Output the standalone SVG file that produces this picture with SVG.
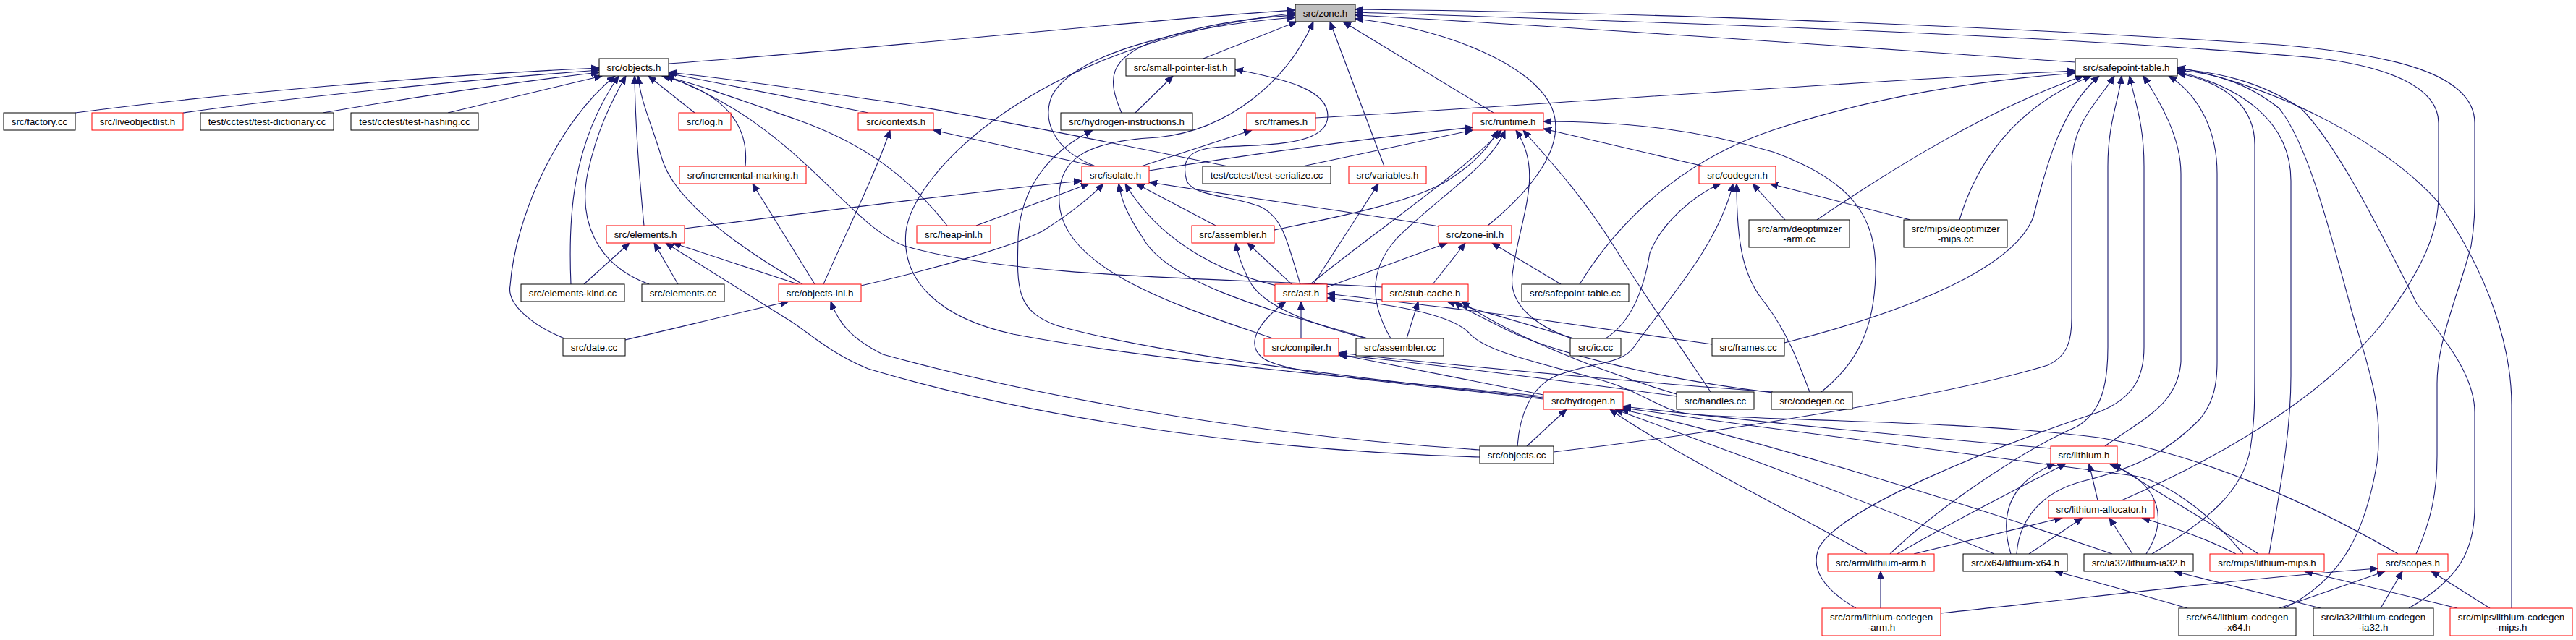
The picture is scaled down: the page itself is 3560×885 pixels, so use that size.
<svg xmlns="http://www.w3.org/2000/svg" width="3560" height="885" viewBox="0 0 3560 885">
<style>
.e path{fill:none;stroke:#191970;stroke-width:1.1;marker-end:url(#a)}
.n rect{fill:#fff;stroke:#000;stroke-width:1}
.r rect{stroke:#ff0000}
.g rect{fill:#bfbfbf}
text{font-family:"Liberation Sans",Arial,Helvetica,sans-serif;font-size:13.33px;text-anchor:middle;fill:#000}
</style>
<defs>
<marker id="a" markerWidth="12" markerHeight="10" refX="11" refY="5" orient="auto" markerUnits="userSpaceOnUse"><path d="M0,0.5 L11,5 L0,9.5 z" fill="#191970" stroke="#191970" stroke-width="1"/></marker>
</defs>
<rect width="3560" height="885" fill="#fff"/>
<g id="connectors" class="e">
<path d="M924,88 C1300,60 1600,25 1790,14"/>
<path d="M1663,81 L1792,30"/>
<path d="M1550,156 C1530,110 1530,80 1600,55 C1660,35 1720,25 1790,21"/>
<path d="M1514,230 C1450,205 1440,160 1455,130 C1490,70 1650,35 1790,24"/>
<path d="M2133,548 C1900,525 1600,500 1400,462 C1300,440 1245,390 1252,320 C1262,240 1430,60 1790,18"/>
<path d="M1759,468 C1650,430 1480,380 1465,290 C1455,220 1500,195 1600,190 C1700,180 1780,110 1815,30"/>
<path d="M1913,230 L1838,30"/>
<path d="M2064,156 L1856,30"/>
<path d="M2056,312 C2120,260 2165,200 2145,150 C2120,90 2000,40 1873,26"/>
<path d="M2868,86 C2600,68 2150,35 1873,21"/>
<path d="M3339,766 C3360,720 3368,680 3368,630 L3368,530 C3368,470 3400,400 3415,340 C3420,310 3420,290 3420,270 L3420,170 C3420,100 3300,75 3150,62 C2700,32 2200,16 1873,13"/>
<path d="M2932,692 C3050,640 3200,560 3290,450 C3350,370 3370,320 3370,270 L3370,170 C3370,120 3300,92 3200,80 C2800,45 2200,28 1873,17"/>
<path d="M104,156 C300,130 600,104 828,94"/>
<path d="M253,156 C400,135 650,110 828,97"/>
<path d="M446,156 C550,138 700,115 828,100"/>
<path d="M619,156 L832,105"/>
<path d="M780,468 C735,450 700,420 705,395 C712,300 770,170 850,105"/>
<path d="M789,393 C785,300 790,200 855,105"/>
<path d="M897,393 C820,365 800,300 812,240 C825,180 845,140 865,105"/>
<path d="M890,312 C884,250 878,180 877,105"/>
<path d="M1109,393 C1000,330 930,270 915,220 C900,170 885,140 882,105"/>
<path d="M960,156 L896,105"/>
<path d="M1030,230 C1035,180 1010,130 915,105"/>
<path d="M1200,156 L922,101"/>
<path d="M1697,230 C1500,190 1300,150 1200,137 C1100,122 1000,108 924,100"/>
<path d="M1309,312 C1260,250 1200,200 1100,165 C1000,130 950,112 915,105"/>
<path d="M1910,397 C1700,385 1400,385 1250,340 C1170,310 1100,170 920,105"/>
<path d="M1569,156 L1621,105"/>
<path d="M1797,393 C1780,340 1775,300 1740,285 C1700,270 1650,272 1640,250 C1630,215 1650,205 1690,203 C1760,200 1835,200 1835,160 C1835,125 1780,110 1707,96"/>
<path d="M2133,550 C1900,527 1600,490 1460,450 C1405,430 1405,400 1407,330 C1410,260 1450,210 1510,180"/>
<path d="M1514,230 L1290,180"/>
<path d="M1138,393 C1170,320 1210,240 1230,180"/>
<path d="M1577,230 L1730,180"/>
<path d="M1818,163 C2200,140 2600,110 2868,98"/>
<path d="M2183,393 C2240,300 2330,220 2450,180 C2600,130 2750,110 2868,101"/>
<path d="M2511,304 C2620,230 2750,150 2879,105"/>
<path d="M2708,304 C2730,230 2780,150 2890,105"/>
<path d="M2466,474 C2600,440 2780,380 2810,300 C2830,220 2850,150 2901,105"/>
<path d="M2147,625 C2400,595 2700,545 2830,505 C2858,492 2863,470 2863,440 L2863,230 C2863,170 2900,140 2922,105"/>
<path d="M2612,766 C2680,700 2800,620 2870,590 C2905,570 2913,530 2913,480 L2913,230 C2913,170 2928,140 2932,105"/>
<path d="M2565,841 C2520,815 2500,785 2515,755 C2550,700 2750,620 2900,570 C2950,550 2963,520 2963,480 L2963,230 C2963,170 2950,140 2943,105"/>
<path d="M2909,617 C2960,580 3010,560 3014,500 L3014,240 C3014,190 2985,140 2962,105"/>
<path d="M2787,766 C2790,720 2820,680 2880,665 C2960,645 3000,620 3040,580 C3060,555 3064,530 3064,500 L3064,240 C3064,170 3030,125 2997,105"/>
<path d="M2974,766 C3050,720 3100,680 3110,620 C3116,580 3116,560 3116,500 L3116,200 C3116,150 3080,115 3009,101"/>
<path d="M3136,766 C3150,680 3166,600 3166,520 L3166,250 C3166,170 3100,120 3009,99"/>
<path d="M3157,841 C3240,800 3270,730 3285,640 C3295,560 3270,500 3250,430 C3220,320 3190,200 3150,150 C3100,110 3050,100 3009,97"/>
<path d="M3329,841 C3400,800 3420,760 3420,700 L3420,570 C3420,520 3380,470 3340,420 C3290,320 3230,200 3180,150 C3120,110 3060,100 3009,95"/>
<path d="M3471,841 L3471,560 C3471,480 3440,380 3370,280 C3300,200 3150,120 3009,93"/>
<path d="M1588,236 C1750,210 1900,190 2035,176"/>
<path d="M1800,230 L2035,180"/>
<path d="M2355,230 L2133,178"/>
<path d="M2517,542 C2570,500 2590,450 2592,380 C2594,300 2560,250 2450,210 C2350,180 2250,168 2133,168"/>
<path d="M1761,318 C1850,300 1950,280 2000,250 C2040,225 2060,200 2070,180"/>
<path d="M1811,393 C1900,320 2020,240 2075,180"/>
<path d="M1922,468 C1900,430 1885,380 1930,330 C1990,270 2060,230 2080,180"/>
<path d="M2172,468 C2120,450 2085,420 2090,380 C2100,300 2135,240 2095,180"/>
<path d="M2364,542 C2330,490 2280,420 2230,340 C2180,260 2130,210 2105,180"/>
<path d="M2467,304 L2422,254"/>
<path d="M2640,304 L2446,254"/>
<path d="M2219,468 C2255,445 2272,400 2280,350 C2295,310 2340,270 2378,254"/>
<path d="M2097,617 C2100,575 2115,535 2150,520 C2200,500 2240,505 2258,480 C2300,420 2375,340 2395,254"/>
<path d="M2501,542 C2485,500 2470,460 2440,420 C2410,385 2400,340 2400,254"/>
<path d="M946,316 C1150,290 1350,265 1495,250"/>
<path d="M1349,312 L1505,254"/>
<path d="M1190,395 C1300,370 1400,340 1440,320 C1480,295 1510,270 1525,254"/>
<path d="M1680,312 L1570,254"/>
<path d="M1988,313 C1900,298 1700,270 1588,252"/>
<path d="M1764,395 C1680,375 1600,330 1555,254"/>
<path d="M1890,468 C1800,440 1620,400 1580,330 C1560,300 1550,280 1546,254"/>
<path d="M1815,393 L1905,254"/>
<path d="M1785,393 L1724,336"/>
<path d="M1888,468 C1800,445 1740,420 1725,385 C1715,365 1710,350 1708,336"/>
<path d="M1834,397 L2000,336"/>
<path d="M1980,393 L2025,336"/>
<path d="M2157,393 L2062,336"/>
<path d="M1944,468 L1960,417"/>
<path d="M2175,468 C2100,445 2040,428 2000,417"/>
<path d="M2450,543 C2300,525 2150,490 2080,455 C2040,435 2020,425 2010,417"/>
<path d="M2317,545 C2200,510 2080,460 2020,417"/>
<path d="M1126,393 L1040,254"/>
<path d="M807,393 L870,336"/>
<path d="M937,393 L904,336"/>
<path d="M1103,393 L930,336"/>
<path d="M2045,632 C1700,622 1400,570 1200,510 C1150,490 1120,462 1094,445 L920,336"/>
<path d="M864,470 C950,450 1030,430 1090,417"/>
<path d="M2045,622 C1700,600 1400,540 1220,490 C1180,470 1160,450 1148,417"/>
<path d="M2110,617 L2165,566"/>
<path d="M2834,620 C2600,600 2400,580 2243,562"/>
<path d="M2580,766 C2480,710 2300,620 2225,566"/>
<path d="M2756,766 C2600,700 2350,610 2232,566"/>
<path d="M2919,766 C2700,690 2400,600 2240,566"/>
<path d="M3100,766 C3050,705 2990,665 2950,658 C2800,640 2500,600 2243,564"/>
<path d="M2899,692 L2887,641"/>
<path d="M2622,766 C2700,720 2780,680 2855,641"/>
<path d="M2779,766 C2765,720 2770,670 2840,641"/>
<path d="M2966,766 C2995,720 2990,670 2915,641"/>
<path d="M3121,766 C3050,720 2980,680 2920,641"/>
<path d="M2645,766 L2850,716"/>
<path d="M2804,766 L2878,716"/>
<path d="M2947,766 L2915,716"/>
<path d="M3090,766 C3050,745 3000,728 2960,716"/>
<path d="M2599,841 L2599,790"/>
<path d="M3023,841 C2950,820 2900,805 2840,790"/>
<path d="M3207,841 L3005,790"/>
<path d="M3396,841 L3185,790"/>
<path d="M2682,848 C2900,825 3100,800 3286,786"/>
<path d="M3150,841 L3296,790"/>
<path d="M3290,841 L3320,790"/>
<path d="M3441,841 L3360,790"/>
<path d="M2133,546 C2030,525 1930,505 1850,490"/>
<path d="M2450,542 C2350,535 2100,515 1850,488"/>
<path d="M2317,548 C2150,525 1950,500 1850,491"/>
<path d="M1798,468 L1798,417"/>
<path d="M2133,552 C1950,530 1780,520 1745,495 C1720,475 1740,445 1777,417"/>
<path d="M3314,766 C3200,700 3050,630 2900,605 C2700,580 2420,582 2330,572 C2290,565 2270,540 2200,522 C2120,500 2050,485 2030,460 C2000,430 1900,418 1834,412"/>
<path d="M2366,476 C2250,460 2150,445 2100,438 C2000,425 1900,414 1834,406"/>
</g>
<g id="zone_h" class="n g"><rect x="1790" y="6" width="83" height="24"/><text x="1831.5" y="23">src/zone.h</text></g>
<g id="objects_h" class="n"><rect x="828" y="81" width="96" height="24"/><text x="876" y="98">src/objects.h</text></g>
<g id="small_pointer_list_h" class="n"><rect x="1556" y="81" width="151" height="24"/><text x="1631.5" y="98">src/small-pointer-list.h</text></g>
<g id="safepoint_table_h" class="n"><rect x="2868" y="81" width="141" height="24"/><text x="2938.5" y="98">src/safepoint-table.h</text></g>
<g id="factory_cc" class="n"><rect x="5" y="156" width="99" height="24"/><text x="54.5" y="173">src/factory.cc</text></g>
<g id="liveobjectlist_h" class="n r"><rect x="127" y="156" width="126" height="24"/><text x="190" y="173">src/liveobjectlist.h</text></g>
<g id="test_dictionary_cc" class="n"><rect x="277" y="156" width="184" height="24"/><text x="369" y="173">test/cctest/test-dictionary.cc</text></g>
<g id="test_hashing_cc" class="n"><rect x="485" y="156" width="176" height="24"/><text x="573" y="173">test/cctest/test-hashing.cc</text></g>
<g id="log_h" class="n r"><rect x="938" y="156" width="72" height="24"/><text x="974" y="173">src/log.h</text></g>
<g id="contexts_h" class="n r"><rect x="1186" y="156" width="104" height="24"/><text x="1238" y="173">src/contexts.h</text></g>
<g id="hydrogen_instructions_h" class="n"><rect x="1466" y="156" width="182" height="24"/><text x="1557" y="173">src/hydrogen-instructions.h</text></g>
<g id="frames_h" class="n r"><rect x="1723" y="156" width="95" height="24"/><text x="1770.5" y="173">src/frames.h</text></g>
<g id="runtime_h" class="n r"><rect x="2035" y="156" width="98" height="24"/><text x="2084" y="173">src/runtime.h</text></g>
<g id="incremental_marking_h" class="n r"><rect x="939" y="230" width="175" height="24"/><text x="1026.5" y="247">src/incremental-marking.h</text></g>
<g id="isolate_h" class="n r"><rect x="1495" y="230" width="93" height="24"/><text x="1541.5" y="247">src/isolate.h</text></g>
<g id="test_serialize_cc" class="n"><rect x="1662" y="230" width="177" height="24"/><text x="1750.5" y="247">test/cctest/test-serialize.cc</text></g>
<g id="variables_h" class="n r"><rect x="1864" y="230" width="107" height="24"/><text x="1917.5" y="247">src/variables.h</text></g>
<g id="codegen_h" class="n r"><rect x="2348" y="230" width="106" height="24"/><text x="2401" y="247">src/codegen.h</text></g>
<g id="deoptimizer_arm_cc" class="n"><rect x="2417" y="304" width="139" height="38"/><text x="2486.5" y="321">src/arm/deoptimizer</text><text x="2486.5" y="335">-arm.cc</text></g>
<g id="deoptimizer_mips_cc" class="n"><rect x="2631" y="304" width="143" height="38"/><text x="2702.5" y="321">src/mips/deoptimizer</text><text x="2702.5" y="335">-mips.cc</text></g>
<g id="elements_h" class="n r"><rect x="838" y="312" width="108" height="24"/><text x="892" y="329">src/elements.h</text></g>
<g id="heap_inl_h" class="n r"><rect x="1267" y="312" width="102" height="24"/><text x="1318" y="329">src/heap-inl.h</text></g>
<g id="assembler_h" class="n r"><rect x="1647" y="312" width="114" height="24"/><text x="1704" y="329">src/assembler.h</text></g>
<g id="zone_inl_h" class="n r"><rect x="1988" y="312" width="101" height="24"/><text x="2038.5" y="329">src/zone-inl.h</text></g>
<g id="elements_kind_cc" class="n"><rect x="720" y="393" width="143" height="24"/><text x="791.5" y="410">src/elements-kind.cc</text></g>
<g id="elements_cc" class="n"><rect x="887" y="393" width="114" height="24"/><text x="944" y="410">src/elements.cc</text></g>
<g id="objects_inl_h" class="n r"><rect x="1076" y="393" width="114" height="24"/><text x="1133" y="410">src/objects-inl.h</text></g>
<g id="ast_h" class="n r"><rect x="1762" y="393" width="72" height="24"/><text x="1798" y="410">src/ast.h</text></g>
<g id="stub_cache_h" class="n r"><rect x="1910" y="393" width="119" height="24"/><text x="1969.5" y="410">src/stub-cache.h</text></g>
<g id="safepoint_table_cc" class="n"><rect x="2103" y="393" width="148" height="24"/><text x="2177" y="410">src/safepoint-table.cc</text></g>
<g id="date_cc" class="n"><rect x="778" y="468" width="86" height="24"/><text x="821" y="485">src/date.cc</text></g>
<g id="compiler_h" class="n r"><rect x="1747" y="468" width="103" height="24"/><text x="1798.5" y="485">src/compiler.h</text></g>
<g id="assembler_cc" class="n"><rect x="1874" y="468" width="121" height="24"/><text x="1934.5" y="485">src/assembler.cc</text></g>
<g id="ic_cc" class="n"><rect x="2170" y="468" width="70" height="24"/><text x="2205" y="485">src/ic.cc</text></g>
<g id="frames_cc" class="n"><rect x="2366" y="468" width="100" height="24"/><text x="2416" y="485">src/frames.cc</text></g>
<g id="hydrogen_h" class="n r"><rect x="2133" y="542" width="110" height="24"/><text x="2188" y="559">src/hydrogen.h</text></g>
<g id="handles_cc" class="n"><rect x="2317" y="542" width="107" height="24"/><text x="2370.5" y="559">src/handles.cc</text></g>
<g id="codegen_cc" class="n"><rect x="2448" y="542" width="112" height="24"/><text x="2504" y="559">src/codegen.cc</text></g>
<g id="objects_cc" class="n"><rect x="2045" y="617" width="102" height="24"/><text x="2096" y="634">src/objects.cc</text></g>
<g id="lithium_h" class="n r"><rect x="2834" y="617" width="92" height="24"/><text x="2880" y="634">src/lithium.h</text></g>
<g id="lithium_allocator_h" class="n r"><rect x="2831" y="692" width="146" height="24"/><text x="2904" y="709">src/lithium-allocator.h</text></g>
<g id="arm_lithium_arm_h" class="n r"><rect x="2526" y="766" width="147" height="24"/><text x="2599.5" y="783">src/arm/lithium-arm.h</text></g>
<g id="x64_lithium_x64_h" class="n"><rect x="2713" y="766" width="144" height="24"/><text x="2785" y="783">src/x64/lithium-x64.h</text></g>
<g id="ia32_lithium_ia32_h" class="n"><rect x="2880" y="766" width="151" height="24"/><text x="2955.5" y="783">src/ia32/lithium-ia32.h</text></g>
<g id="mips_lithium_mips_h" class="n r"><rect x="3054" y="766" width="158" height="24"/><text x="3133" y="783">src/mips/lithium-mips.h</text></g>
<g id="scopes_h" class="n r"><rect x="3286" y="766" width="97" height="24"/><text x="3334.5" y="783">src/scopes.h</text></g>
<g id="arm_lithium_codegen_arm_h" class="n r"><rect x="2518" y="841" width="164" height="38"/><text x="2600" y="858">src/arm/lithium-codegen</text><text x="2600" y="872">-arm.h</text></g>
<g id="x64_lithium_codegen_x64_h" class="n"><rect x="3011" y="841" width="162" height="38"/><text x="3092" y="858">src/x64/lithium-codegen</text><text x="3092" y="872">-x64.h</text></g>
<g id="ia32_lithium_codegen_ia32_h" class="n"><rect x="3197" y="841" width="166" height="38"/><text x="3280" y="858">src/ia32/lithium-codegen</text><text x="3280" y="872">-ia32.h</text></g>
<g id="mips_lithium_codegen_mips_h" class="n r"><rect x="3386" y="841" width="169" height="38"/><text x="3470.5" y="858">src/mips/lithium-codegen</text><text x="3470.5" y="872">-mips.h</text></g>
</svg>
